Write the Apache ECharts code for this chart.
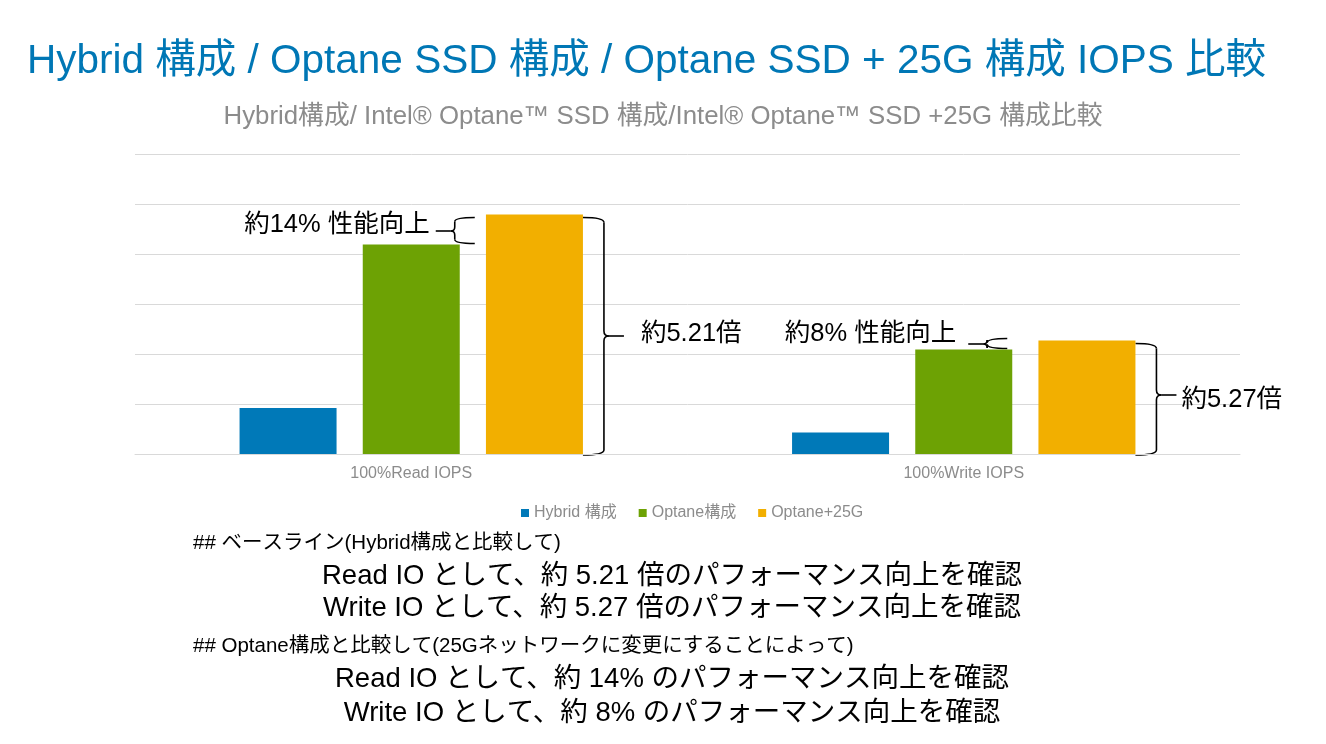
<!DOCTYPE html>
<html>
  <head>
    <meta charset="utf-8">
    <title>IOPS 比較</title>
    <style>
      html, body {margin: 0; padding: 0; background: #fff;}
      #wrap {width: 1326px; height: 744px;}
    </style>
    <script src="https://cdn.jsdelivr.net/npm/echarts@6/dist/echarts.min.js"></script>
  </head>
  <body>
    <div id="wrap"></div>
    <script>
      // データ
      var categories = ['100%Read IOPS', '100%Write IOPS'];
      var seriesNames = ['Hybrid 構成', 'Optane構成', 'Optane+25G'];
      var hybridVals = [0.92, 0.43];
      var optaneVals = [4.19, 2.09];
      var optane25Vals = [4.79, 2.27];
      var gainLabels = ['約14% 性能向上', '約8% 性能向上'];
      var ratioLabels = ['約5.21倍', '約5.27倍'];

      var titleText = 'Hybrid 構成 / Optane SSD 構成 / Optane SSD + 25G 構成 IOPS 比較';
      var subText = 'Hybrid構成/ Intel® Optane™ SSD 構成/Intel® Optane™ SSD +25G 構成比較';
      var headLines = [
        '## ベースライン(Hybrid構成と比較して)',
        '## Optane構成と比較して(25Gネットワークに変更にすることによって)'
      ];
      var bodyLines = [
        'Read IO として、約 5.21 倍のパフォーマンス向上を確認',
        'Write IO として、約 5.27 倍のパフォーマンス向上を確認',
        'Read IO として、約 14% のパフォーマンス向上を確認',
        'Write IO として、約 8% のパフォーマンス向上を確認'
      ];

      var FONT = "'Liberation Sans', 'Noto Sans CJK JP', sans-serif";
      var colors = ['#0079b8', '#6da204', '#f2af00'];

      var chart = echarts.init(document.getElementById('wrap'));

      function barSeries(name, vals) {
        return {
          name: name,
          type: 'bar',
          data: vals,
          barWidth: 97,
          barGap: '27%',
          animation: false,
          silent: true
        };
      }

      var option = {
        color: colors,
        animation: false,
        textStyle: {fontFamily: FONT},
        title: [
          {
            text: titleText,
            left: 22,
            top: 37,
            textStyle: {color: '#0077b5', fontSize: 40.5, fontWeight: 'normal', fontFamily: FONT}
          },
          {
            text: subText,
            left: 'center',
            top: 99,
            textStyle: {color: '#8c8c8c', fontSize: 25.8, fontWeight: 'normal', fontFamily: FONT}
          }
        ],
        legend: {
          data: seriesNames,
          top: 500,
          left: 516,
          icon: 'rect',
          itemWidth: 8,
          itemHeight: 8,
          itemGap: 22,
          textStyle: {color: '#8c8c8c', fontSize: 16, fontFamily: FONT}
        },
        grid: {left: 135, right: 86, top: 154, bottom: 290, containLabel: false},
        xAxis: {
          type: 'category',
          data: categories,
          axisLine: {lineStyle: {color: '#d9d9d9'}},
          axisTick: {show: false},
          axisLabel: {color: '#8c8c8c', fontSize: 16, margin: 12, fontFamily: FONT}
        },
        yAxis: {
          type: 'value',
          min: 0,
          max: 6,
          interval: 1,
          axisLabel: {show: false},
          axisLine: {show: false},
          axisTick: {show: false},
          splitLine: {lineStyle: {color: '#d9d9d9'}}
        },
        series: [
          barSeries(seriesNames[0], hybridVals),
          barSeries(seriesNames[1], optaneVals),
          barSeries(seriesNames[2], optane25Vals)
        ]
      };
      chart.setOption(option);

      // バーの位置を取得
      function barBox(s, i) {
        var l = chart.getModel().getSeriesByIndex(s).getData().getItemLayout(i);
        return {
          left: l.x,
          right: l.x + l.width,
          top: Math.min(l.y, l.y + l.height),
          bottom: Math.max(l.y, l.y + l.height)
        };
      }

      var LINE = {stroke: '#000', lineWidth: 1.6, fill: null};

      // 括弧: xHook 側が開き, xTip 側に尖る
      function brace(xHook, xSpine, xTip, yT, yB, yM, r) {
        var d = xTip > xSpine ? 1 : -1;
        var els = [];
        els.push({type: 'bezierCurve', shape: {x1: xHook, y1: yT, cpx1: xSpine, cpy1: yT, x2: xSpine, y2: yT + r}, style: LINE});
        els.push({type: 'line', shape: {x1: xSpine, y1: yT + r, x2: xSpine, y2: yM - r}, style: LINE});
        els.push({type: 'bezierCurve', shape: {x1: xSpine, y1: yM - r, cpx1: xSpine, cpy1: yM, x2: xSpine + d * r, y2: yM}, style: LINE});
        els.push({type: 'bezierCurve', shape: {x1: xSpine, y1: yM + r, cpx1: xSpine, cpy1: yM, x2: xSpine + d * r, y2: yM}, style: LINE});
        els.push({type: 'line', shape: {x1: xSpine + d * r, y1: yM, x2: xTip, y2: yM}, style: LINE});
        els.push({type: 'line', shape: {x1: xSpine, y1: yM + r, x2: xSpine, y2: yB - r}, style: LINE});
        els.push({type: 'bezierCurve', shape: {x1: xHook, y1: yB, cpx1: xSpine, cpy1: yB, x2: xSpine, y2: yB - r}, style: LINE});
        return els;
      }

      function label(text, x, y, align) {
        return {
          type: 'text',
          x: x,
          y: y,
          style: {text: text, fill: '#000', font: '25.5px ' + FONT, textAlign: align, textVerticalAlign: 'middle'}
        };
      }

      var graphics = [];
      // 配置の微調整 (グループごと)
      var bigMidShift = [0, -4];
      var bigTextGap = [17, 5];
      var bigTextDy = [-2, 5];
      var smallSpineOff = [-5, -25];
      var smallTopOff = [3, -2];
      var smallTextGap = [6, 12];
      var smallTextDy = [-6, -10];
      for (var i = 0; i < categories.length; i++) {
        var h = barBox(0, i), o = barBox(1, i), g = barBox(2, i);
        // 大きい括弧 (Hybrid → Optane+25G)
        var xL = g.right, yT = g.top + 3, yB = h.bottom + 1;
        var yM = Math.round((yT + yB) / 2) + bigMidShift[i];
        graphics = graphics.concat(brace(xL, xL + 21, xL + 41, yT, yB, yM, 5));
        graphics.push(label(ratioLabels[i], xL + 41 + bigTextGap[i], yM + bigTextDy[i], 'left'));
        // 小さい括弧 (Optane → Optane+25G)
        var xs = o.right + smallSpineOff[i];
        var sT = g.top + smallTopOff[i], sB = o.top - 1;
        var sM = Math.round((sT + sB) / 2);
        graphics = graphics.concat(brace(xs + 20, xs, xs - 19, sT, sB, sM, 4));
        graphics.push(label(gainLabels[i], xs - 19 - smallTextGap[i], sM + smallTextDy[i], 'right'));
      }

      // 下部テキスト
      var headY = [543, 646];
      var bodyY = [576, 608, 679, 713];
      for (var k = 0; k < headLines.length; k++) {
        graphics.push({
          type: 'text', x: 193, y: headY[k],
          style: {text: headLines[k], fill: '#000', font: '20.5px ' + FONT, textAlign: 'left', textVerticalAlign: 'middle'}
        });
      }
      for (var j = 0; j < bodyLines.length; j++) {
        graphics.push({
          type: 'text', x: 672, y: bodyY[j],
          style: {text: bodyLines[j], fill: '#000', font: '27.5px ' + FONT, textAlign: 'center', textVerticalAlign: 'middle'}
        });
      }

      chart.setOption({graphic: {elements: graphics}});
    </script>
  </body>
</html>
